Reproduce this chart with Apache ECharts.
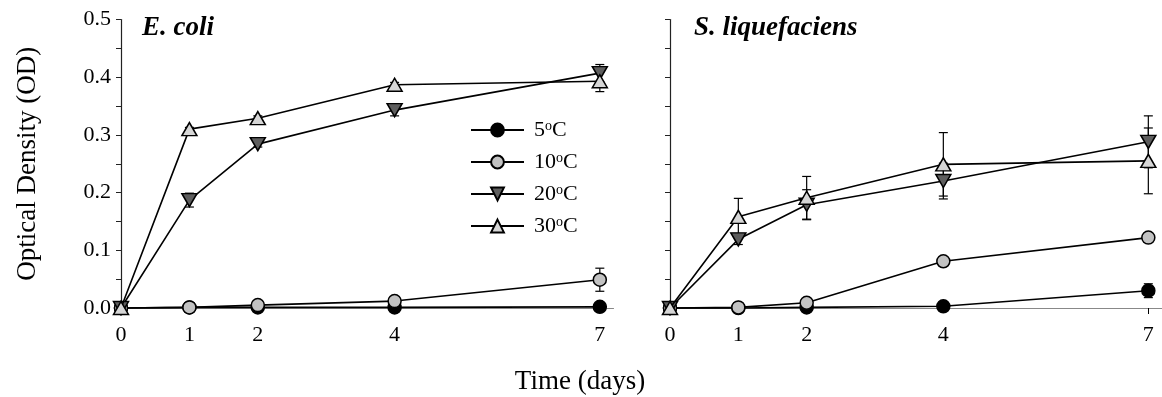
<!DOCTYPE html>
<html>
<head>
<meta charset="utf-8">
<script src="https://cdn.jsdelivr.net/npm/echarts@6/dist/echarts.min.js"></script>
<style>
html,body{margin:0;padding:0;background:#fff;}
#chart{width:1162px;height:397px;}
</style>
</head>
<body>
<div id="chart"></div>
<script>
// ---- data ----
const days = [0, 1, 2, 4, 7];
const xTickLabels = [0, 1, 2, 4, 7];
const yTickLabels = ['0.0', '0.1', '0.2', '0.3', '0.4', '0.5'];
const seriesNames = ['5°C', '10°C', '20°C', '30°C'];
const panelTitles = ['E. coli', 'S. liquefaciens'];

// E. coli
const ecoli5 = [0, 0.001, 0.001, 0.001, 0.002];
const ecoli10 = [0, 0.001, 0.005, 0.012, 0.049];
const ecoli20 = [0, 0.187, 0.284, 0.343, 0.407];
const ecoli30 = [0, 0.310, 0.329, 0.387, 0.393];
const ecoli5Err = [0, 0, 0, 0, 0];
const ecoli10Err = [0, 0, 0.002, 0.003, 0.020];
const ecoli20Err = [0, 0.012, 0.005, 0.010, 0.015];
const ecoli30Err = [0, 0.003, 0.004, 0.004, 0.018];

// S. liquefaciens
const sliq5 = [0, 0, 0.001, 0.003, 0.030];
const sliq10 = [0, 0.001, 0.009, 0.081, 0.122];
const sliq20 = [0, 0.119, 0.179, 0.220, 0.288];
const sliq30 = [0, 0.158, 0.191, 0.249, 0.255];
const sliq5Err = [0, 0, 0, 0.002, 0.012];
const sliq10Err = [0, 0, 0.002, 0.004, 0.008];
const sliq20Err = [0, 0.009, 0.026, 0.031, 0.045];
const sliq30Err = [0, 0.032, 0.037, 0.055, 0.057];

// ---- styles ----
const FONT = 'Liberation Serif';
const fills = ['#000000', '#c2c2c2', '#5e5e5e', '#d6d6d6'];
const symbols = ['circle', 'circle', 'triangle', 'triangle'];
const rotates = [0, 0, 180, 0];
const sizes = [13, 13, [15, 13], [15, 13]];

const panels = [
  { vals: [ecoli5, ecoli10, ecoli20, ecoli30], errs: [ecoli5Err, ecoli10Err, ecoli20Err, ecoli30Err] },
  { vals: [sliq5, sliq10, sliq20, sliq30], errs: [sliq5Err, sliq10Err, sliq20Err, sliq30Err] }
];

function errRender(params, api) {
  const x = api.value(0), y = api.value(1), e = api.value(2);
  if (!e) return null;
  const top = api.coord([x, y + e]);
  const bot = api.coord([x, y - e]);
  const hw = 4.5;
  const st = { stroke: '#000', lineWidth: 1.2 };
  return {
    type: 'group',
    children: [
      { type: 'line', shape: { x1: top[0], y1: top[1], x2: bot[0], y2: bot[1] }, style: st },
      { type: 'line', shape: { x1: top[0] - hw, y1: top[1], x2: top[0] + hw, y2: top[1] }, style: st },
      { type: 'line', shape: { x1: bot[0] - hw, y1: bot[1], x2: bot[0] + hw, y2: bot[1] }, style: st }
    ]
  };
}

const series = [];
panels.forEach((p, pi) => {
  for (let k = 0; k < 4; k++) {
    series.push({
      type: 'custom',
      name: 'err' + pi + k,
      xAxisIndex: pi, yAxisIndex: pi,
      renderItem: errRender,
      data: days.map((d, i) => [d, p.vals[k][i], p.errs[k][i]]),
      z: 1, silent: true, clip: false
    });
  }
  for (let k = 0; k < 4; k++) {
    series.push({
      type: 'line',
      name: seriesNames[k],
      xAxisIndex: pi, yAxisIndex: pi,
      data: days.map((d, i) => [d, p.vals[k][i]]),
      symbol: symbols[k],
      symbolRotate: rotates[k],
      symbolSize: sizes[k],
      showSymbol: true,
      showAllSymbol: true,
      clip: false,
      lineStyle: { color: '#000', width: 1.6 },
      itemStyle: { color: fills[k], borderColor: '#000', borderWidth: 1.5, opacity: 1 },
      emphasis: { disabled: true },
      z: 2 + k,
      silent: true
    });
  }
});

function xAxisCfg(idx, tickCustom) {
  return {
    type: 'value', gridIndex: idx, min: 0, max: 7.2, interval: 1,
    axisLine: { show: true, onZero: false, lineStyle: { color: '#888', width: 1.2 } },
    axisTick: tickCustom ? { show: true, length: 6, inside: false, customValues: [7], lineStyle: { color: '#000' } } : { show: false },
    splitLine: { show: false },
    axisLabel: {
      show: true, margin: 16, color: '#000', fontFamily: FONT, fontSize: 22,
      formatter: v => xTickLabels.indexOf(v) >= 0 ? String(v) : ''
    }
  };
}
function yAxisCfg(idx, labels) {
  const o = {
    type: 'value', gridIndex: idx, min: 0, max: 0.5, interval: 0.05,
    axisLine: { show: true, lineStyle: { color: '#222', width: 1.2 } },
    axisTick: { show: true, inside: false, length: 5, lineStyle: { color: '#222', width: 1 } },
    splitLine: { show: false },
    axisLabel: {
      show: labels, margin: 10, color: '#000', fontFamily: FONT, fontSize: 22,
      formatter: v => { const r = Math.round(v * 100); return r % 10 === 0 ? yTickLabels[r / 10] : ''; }
    }
  };
  if (labels) {
    o.name = 'Optical Density (OD)';
    o.nameLocation = 'middle';
    o.nameGap = 80;
    o.nameTextStyle = { fontFamily: FONT, fontSize: 27, color: '#000' };
  }
  return o;
}

const option = {
  animation: false,
  backgroundColor: '#fff',
  grid: [
    { left: 121, top: 19.5, width: 492.5, height: 288.5, containLabel: false, outerBoundsMode: 'none' },
    { left: 670, top: 19.5, width: 492, height: 288.5, containLabel: false, outerBoundsMode: 'none' }
  ],
  xAxis: [xAxisCfg(0, false), xAxisCfg(1, true)],
  yAxis: [yAxisCfg(0, true), yAxisCfg(1, false)],
  title: [
    { text: panelTitles[0], left: 142, top: 15, padding: 0, textStyle: { fontFamily: FONT, fontStyle: 'italic', fontWeight: 'bold', fontSize: 27, color: '#000' } },
    { text: panelTitles[1], left: 694, top: 15, padding: 0, textStyle: { fontFamily: FONT, fontStyle: 'italic', fontWeight: 'bold', fontSize: 27, color: '#000' } }
  ],
  graphic: [
    { type: 'text', x: 580, y: 382, style: { text: 'Time (days)', fontFamily: FONT, fontSize: 27, fill: '#000', textAlign: 'center', textVerticalAlign: 'middle' } }
  ],
  legend: {
    data: seriesNames,
    orient: 'vertical',
    left: 470, top: 119,
    padding: 0,
    itemWidth: 53, itemHeight: 16, itemGap: 10,
    selectedMode: false,
    formatter: name => '{g|}{n|' + name.replace('°C', '') + '}{s|o}{n|C}',
    textStyle: {
      color: '#000', fontFamily: FONT, fontSize: 22,
      rich: {
        g: { width: 5 },
        n: { fontFamily: FONT, fontSize: 22, lineHeight: 16, color: '#000' },
        s: { fontFamily: FONT, fontSize: 14, lineHeight: 16, color: '#000', verticalAlign: 'top', padding: [0, 0, 8, 0] }
      }
    }
  },
  series: series
};

const chart = echarts.init(document.getElementById('chart'), null, { renderer: 'canvas' });
chart.setOption(option);
</script>
</body>
</html>
